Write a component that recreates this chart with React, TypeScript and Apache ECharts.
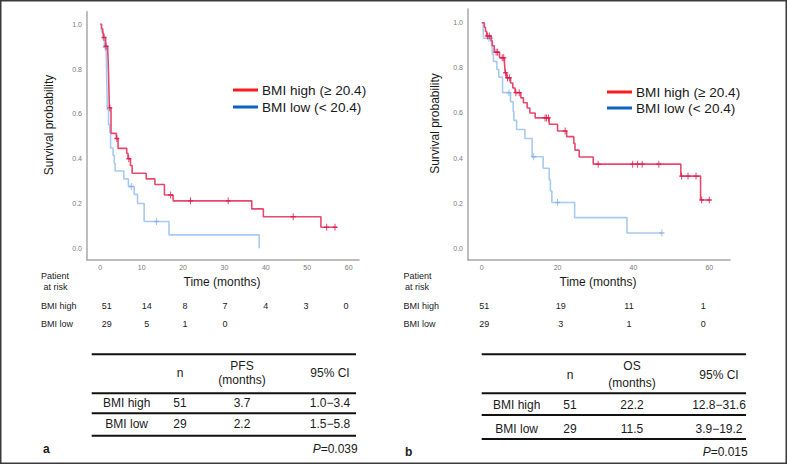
import React, { useEffect, useRef } from "react";
import * as echarts from "echarts";

// ---------- data ----------
// PFS (panel a)
const pfsHighTimes = [0, 0.3, 0.6, 0.8, 1.3, 1.8, 1.9, 2.0, 2.1, 2.2, 2.6, 3.9, 4.3, 6.4, 6.7, 7.3, 7.7, 11.1, 13.2, 15.5, 17.6, 36.6, 39.4, 53.3, 57.1];
const pfsHighSurv = [1, 0.98, 0.96, 0.941, 0.902, 0.882, 0.843, 0.784, 0.706, 0.627, 0.513, 0.49, 0.446, 0.424, 0.4, 0.37, 0.335, 0.31, 0.285, 0.238, 0.212, 0.176, 0.141, 0.094, 0.094];
const pfsHighCensor = [0.9, 1.4, 2.3, 4.0, 6.9, 17.0, 21.8, 30.9, 46.6, 54.7, 56.7];

const pfsLowTimes = [0, 0.3, 0.7, 1.0, 1.45, 1.5, 1.55, 1.6, 1.65, 1.7, 2.0, 2.3, 2.5, 3.1, 3.4, 3.6, 5.7, 6.8, 8.2, 9.0, 10.6, 16.6, 38.4];
const pfsLowSurv = [1, 0.966, 0.931, 0.897, 0.862, 0.828, 0.759, 0.724, 0.69, 0.62, 0.552, 0.517, 0.448, 0.414, 0.379, 0.345, 0.31, 0.276, 0.241, 0.2, 0.12, 0.06, 0];
const pfsLowCensor = [1.2, 7.5, 13.6];

// OS (panel b)
const osHighTimes = [0, 0.7, 1.0, 1.3, 2.5, 2.8, 3.3, 4.7, 6.0, 6.1, 6.2, 6.5, 7.6, 8.2, 8.8, 10.3, 11.0, 12.0, 12.7, 14.1, 17.8, 20.0, 22.4, 24.3, 24.6, 25.7, 29.4, 52.5, 57.7, 60.3];
const osHighSurv = [1, 0.98, 0.961, 0.941, 0.92, 0.898, 0.869, 0.845, 0.822, 0.8, 0.778, 0.756, 0.733, 0.711, 0.69, 0.667, 0.645, 0.622, 0.6, 0.578, 0.55, 0.52, 0.495, 0.465, 0.435, 0.405, 0.373, 0.32, 0.214, 0.214];
const osHighCensor = [1.5, 2.0, 3.8, 4.2, 5.4, 5.8, 6.3, 6.8, 7.3, 9.0, 9.9, 16.7, 17.1, 17.6, 22.0, 30.7, 39.8, 41.1, 42.3, 46.7, 52.7, 54.4, 56.5, 58.0, 60.0];

const osLowTimes = [0, 0.4, 0.5, 2.6, 2.8, 3.1, 4.0, 4.5, 5.5, 7.6, 8.3, 8.5, 9.2, 11.4, 13.3, 16.2, 17.8, 18.1, 18.5, 24.5, 38.3, 47.5];
const osLowSurv = [1, 0.966, 0.931, 0.897, 0.862, 0.828, 0.793, 0.759, 0.69, 0.65, 0.606, 0.567, 0.527, 0.487, 0.406, 0.355, 0.304, 0.254, 0.203, 0.136, 0.068, 0.068];
const osLowCensor = [1.9, 2.4, 7.2, 13.7, 20.0, 47.5];

// tick labels
const pfsXTicks = [0, 10, 20, 30, 40, 50, 60];
const osXTicks = [0, 20, 40, 60];
const yTicks = [0, 0.2, 0.4, 0.6, 0.8, 1.0];

// legend
const legendLabels = ["BMI high (\u2265 20.4)", "BMI low (< 20.4)"];

// numbers at risk
const pfsRiskHigh = ["51", "14", "8", "7", "4", "3", "0"];
const pfsRiskLow = ["29", "5", "1", "0"];
const osRiskHigh = ["51", "19", "11", "1"];
const osRiskLow = ["29", "3", "1", "0"];

// summary tables
const groups = ["BMI high", "BMI low"];
const groupN = ["51", "29"];
const pfsMedian = ["3.7", "2.2"];
const pfsCI = ["1.0\u22123.4", "1.5\u22125.8"];
const osMedian = ["22.2", "11.5"];
const osCI = ["12.8\u221231.6", "3.9\u221219.2"];
const pfsP = "0.039";
const osP = "0.015";

// ---------- styles ----------
const FONT = "'Liberation Sans', Arial, Helvetica, sans-serif";
const RED_LINE = "#e8486c";
const RED_MARK = "#d9194a";
const BLUE_LINE = "#a7caf1";
const BLUE_MARK = "#7fb0e6";
const AXIS = "#a8a8a8";
const TXT = "#1a1a1a";
const PLUS = "path://M4,0H6V4H10V6H6V10H4V6H0V4H4Z";

function stepData(times: number[], surv: number[]) {
  return times.map((t, i) => [t, surv[i]]);
}
function survAt(times: number[], surv: number[], t: number) {
  let s = 1;
  for (let i = 0; i < times.length; i++) if (times[i] <= t) s = surv[i];
  return s;
}

function txt(x: number, y: number, text: string, size: number, align = "center", extra: any = {}) {
  return {
    type: "text",
    x,
    y,
    silent: true,
    style: {
      text,
      fill: TXT,
      fontSize: size,
      fontFamily: FONT,
      textAlign: align,
      textVerticalAlign: "middle",
      ...extra,
    },
  };
}
function hline(x1: number, x2: number, y: number, w = 2, color = "#111") {
  return { type: "line", silent: true, shape: { x1, y1: y, x2, y2: y }, style: { stroke: color, lineWidth: w } };
}

function curveSeries(xi: number, times: number[], surv: number[], censor: number[], lineColor: string, markColor: string, z: number) {
  return [
    {
      type: "line",
      xAxisIndex: xi,
      yAxisIndex: xi,
      data: stepData(times, surv),
      step: "end",
      showSymbol: false,
      lineStyle: { color: lineColor, width: 1.6 },
      z,
    },
    {
      type: "scatter",
      xAxisIndex: xi,
      yAxisIndex: xi,
      data: censor.map((t) => [t, survAt(times, surv, t)]),
      symbol: PLUS,
      symbolSize: [5, 7],
      itemStyle: { color: markColor },
      z: z + 1,
    },
  ];
}

function axisCommon(custom: number[], isY: boolean) {
  return {
    type: "value",
    axisLine: { show: true, onZero: false, lineStyle: { color: AXIS, width: 1.5 } },
    axisTick: { show: false },
    splitLine: { show: false },
    axisLabel: {
      customValues: custom,
      color: "#7a7a7a",
      fontSize: 7,
      fontFamily: FONT,
      margin: isY ? 5 : 4,
      formatter: isY ? (v: number) => v.toFixed(1) : (v: number) => String(Math.round(v)),
    },
  };
}

function buildGraphic() {
  const g: any[] = [];
  // outer frame
  g.push({ type: "rect", silent: true, shape: { x: 0.75, y: 0.75, width: 785.5, height: 462.5 }, style: { fill: "none", stroke: "#3a3a3a", lineWidth: 1.5 } });

  // axis titles
  g.push({ ...txt(49, 125, "Survival probability", 12), rotation: Math.PI / 2 });
  g.push({ ...txt(435, 123.5, "Survival probability", 12), rotation: Math.PI / 2 });
  g.push(txt(222, 282, "Time (months)", 12));
  g.push(txt(598, 282, "Time (months)", 12));

  // legends
  const legs = [
    { x: 233, y0: 90, y1: 107 },
    { x: 607, y0: 92, y1: 108 },
  ];
  legs.forEach((L) => {
    g.push({ type: "line", silent: true, shape: { x1: L.x, y1: L.y0, x2: L.x + 25, y2: L.y0 }, style: { stroke: "#ff1a1a", lineWidth: 3 } });
    g.push({ type: "line", silent: true, shape: { x1: L.x, y1: L.y1, x2: L.x + 25, y2: L.y1 }, style: { stroke: "#0b63c1", lineWidth: 3 } });
    g.push(txt(L.x + 29, L.y0, legendLabels[0], 13.6, "left"));
    g.push(txt(L.x + 29, L.y1, legendLabels[1], 13.6, "left"));
  });

  // numbers at risk
  const riskBlocks = [
    { lx: 41, ax: 43.5, cols: [106.7, 146.7, 185, 225, 265.7, 306, 346], hi: pfsRiskHigh, lo: pfsRiskLow, yh: 305.7, yl: 324 },
    { lx: 403.5, ax: 405, cols: [484.3, 560.7, 629, 703.3], hi: osRiskHigh, lo: osRiskLow, yh: 305.7, yl: 323.5 },
  ];
  riskBlocks.forEach((R) => {
    g.push(txt(R.lx, 276, "Patient", 9, "left"));
    g.push(txt(R.ax, 287, "at risk", 9, "left"));
    g.push(txt(R.lx, R.yh, "BMI high", 9, "left"));
    g.push(txt(R.lx, R.yl, "BMI low", 9, "left"));
    R.hi.forEach((v, i) => g.push(txt(R.cols[i], R.yh, v, 9)));
    R.lo.forEach((v, i) => g.push(txt(R.cols[i], R.yl, v, 9)));
  });

  // summary tables
  const tables = [
    { x1: 91.7, x2: 356, cols: [126.7, 180, 242, 330], lines: [354.3, 393.3, 413.3, 435.7], hdrY: 373, hdr1: 366, hdr2: 380, rows: [402.7, 424.3], label: "PFS", med: pfsMedian, ci: pfsCI, p: pfsP, pY: 449, pX: 357.7, letter: "a", letX: 43 },
    { x1: 481.7, x2: 746, cols: [516.7, 570, 632, 719], lines: [354.3, 393.3, 415, 439], hdrY: 375, hdr1: 366, hdr2: 382.5, rows: [405.3, 428.5], label: "OS", med: osMedian, ci: osCI, p: osP, pY: 451.5, pX: 747.7, letter: "b", letX: 405 },
  ];
  tables.forEach((T) => {
    T.lines.forEach((y) => g.push(hline(T.x1, T.x2, y, 2)));
    g.push(txt(T.cols[1], T.hdrY, "n", 12));
    g.push(txt(T.cols[2], T.hdr1, T.label, 12));
    g.push(txt(T.cols[2], T.hdr2, "(months)", 12));
    g.push(txt(T.cols[3], T.hdrY, "95% CI", 12));
    groups.forEach((name, i) => {
      g.push(txt(T.cols[0], T.rows[i], name, 12));
      g.push(txt(T.cols[1], T.rows[i], groupN[i], 12));
      g.push(txt(T.cols[2], T.rows[i], T.med[i], 12));
      g.push(txt(T.cols[3], T.rows[i], T.ci[i], 12));
    });
    g.push(
      txt(T.pX, T.pY, "{i|P}=" + T.p, 12, "right", {
        rich: { i: { fontStyle: "italic", fontSize: 12, fontFamily: FONT, fill: TXT } },
      })
    );
    g.push(txt(T.letX, T.pY, T.letter, 12, "left", { fontWeight: "bold" }));
  });
  return g;
}

export default function App() {
  const ref = useRef<HTMLDivElement>(null);
  useEffect(() => {
    if (!ref.current) return;
    const chart = echarts.init(ref.current, null, { renderer: "svg" });
    const option: any = {
      animation: false,
      backgroundColor: "#ffffff",
      grid: [
        { left: 87, top: 11.7, width: 272, height: 248.3 },
        { left: 468, top: 9, width: 262, height: 251 },
      ],
      xAxis: [
        { ...axisCommon(pfsXTicks, false), gridIndex: 0, min: -3.2, max: 62.5 },
        { ...axisCommon(osXTicks, false), gridIndex: 1, min: -3.61, max: 65.46 },
      ],
      yAxis: [
        { ...axisCommon(yTicks, true), gridIndex: 0, min: -0.052, max: 1.056 },
        { ...axisCommon(yTicks, true), gridIndex: 1, min: -0.052, max: 1.061 },
      ],
      series: [
        ...curveSeries(0, pfsLowTimes, pfsLowSurv, pfsLowCensor, BLUE_LINE, BLUE_MARK, 2),
        ...curveSeries(0, pfsHighTimes, pfsHighSurv, pfsHighCensor, RED_LINE, RED_MARK, 4),
        ...curveSeries(1, osLowTimes, osLowSurv, osLowCensor, BLUE_LINE, BLUE_MARK, 2),
        ...curveSeries(1, osHighTimes, osHighSurv, osHighCensor, RED_LINE, RED_MARK, 4),
      ],
      graphic: buildGraphic(),
    };
    chart.setOption(option);
    return () => chart.dispose();
  }, []);
  return <div ref={ref} style={{ position: "absolute", left: 0, top: 0, width: 788, height: 466 }} />;
}
